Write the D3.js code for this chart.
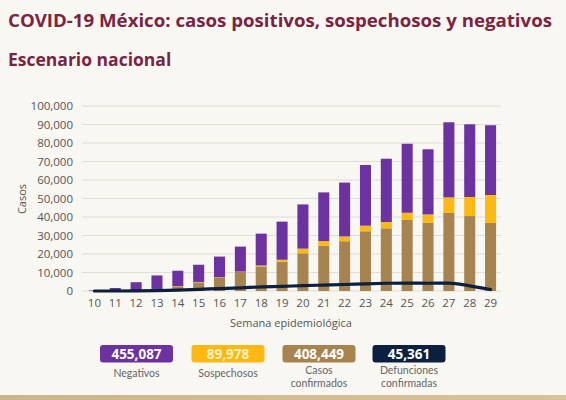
<!DOCTYPE html>
<html><head><meta charset="utf-8">
<script src="https://cdn.jsdelivr.net/npm/d3@7"></script>
<style>
html,body{margin:0;padding:0;background:#f9f7f2;}
svg{display:block;}
</style></head>
<body>
<svg id="chart" width="566" height="400"></svg>
<script>
const weeks = [10,11,12,13,14,15,16,17,18,19,20,21,22,23,24,25,26,27,28,29];
const confirmados = [30,100,400,1000,2500,4700,7200,10300,13300,15800,20400,24500,26900,32300,33900,38400,36900,42200,40500,36800];
const sospechosos = [0,20,50,100,150,200,200,200,500,1100,2500,2500,2600,3000,3400,3900,4500,8400,10300,15100];
const negativos = [300,1500,4300,7300,8300,9300,11200,13500,17200,20600,23900,26300,29100,32800,34200,37300,35200,40600,39300,37700];
const defunciones = [0,10,50,200,500,900,1300,1700,2200,2500,2900,3200,3500,3900,4200,4300,4200,4300,2800,800];
const yTicks = [0,10000,20000,30000,40000,50000,60000,70000,80000,90000,100000];
const seriesKeys = ["confirmados","sospechosos","negativos"];
const seriesColors = {confirmados:"#a7834f", sospechosos:"#fdb813", negativos:"#6b32a0"};
const totals = [
  {value:"455,087", label:["Negativos"], color:"#6b32a0", text:"#ffffff"},
  {value:"89,978", label:["Sospechosos"], color:"#fdb813", text:"#fff3c4"},
  {value:"408,449", label:["Casos","confirmados"], color:"#a7834f", text:"#ffffff"},
  {value:"45,361", label:["Defunciones","confirmadas"], color:"#0b1f3f", text:"#ffffff"}
];

const svg = d3.select("#chart");
const font = "'Open Sans', sans-serif";

// background
svg.append("rect").attr("width",566).attr("height",400).attr("fill","#f9f7f2");
const grad = svg.append("defs").append("linearGradient").attr("id","foot").attr("x1","0").attr("x2","1");
grad.append("stop").attr("offset","0").attr("stop-color","#cdb48a");
grad.append("stop").attr("offset","1").attr("stop-color","#d9c29a");
svg.append("rect").attr("x",0).attr("y",395).attr("width",566).attr("height",5).attr("fill","url(#foot)");

// titles
svg.append("text").attr("x",8).attr("y",27).attr("font-family",font).attr("font-weight",700)
  .attr("font-size",17.5).attr("fill","#7b2342")
  .attr("textLength",544).attr("lengthAdjust","spacingAndGlyphs")
  .text("COVID-19 México: casos positivos, sospechosos y negativos");
svg.append("text").attr("x",8).attr("y",66).attr("font-family",font).attr("font-weight",700)
  .attr("font-size",17.5).attr("fill","#7b2342").text("Escenario nacional");

// scales
const x = d3.scaleBand().domain(weeks).range([84,501]).paddingInner(0.47).paddingOuter(0.235);
const y = d3.scaleLinear().domain([0,100000]).range([291,106]);

// grid
svg.append("g").selectAll("line").data(yTicks).join("line")
  .attr("x1",82).attr("x2",501).attr("y1",d=>y(d)).attr("y2",d=>y(d))
  .attr("stroke","#e0ddd6").attr("stroke-width",1);

// y axis
const yAxis = d3.axisLeft(y).tickValues(yTicks).tickSize(0).tickPadding(0).tickFormat(d3.format(","));
const gy = svg.append("g").attr("transform","translate(73,0)").call(yAxis);
gy.select(".domain").remove();
gy.selectAll("text").attr("font-family",font).attr("font-size",11.5).attr("fill","#555");

// x axis
const xAxis = d3.axisBottom(x).tickSize(0).tickPadding(0);
const gx = svg.append("g").attr("transform","translate(0,299)").call(xAxis);
gx.select(".domain").remove();
gx.selectAll("text").attr("font-family",font).attr("font-size",11.5).attr("fill","#555").attr("dy","0.71em");

// axis titles
svg.append("text").attr("transform","translate(26,199) rotate(-90)").attr("text-anchor","middle")
  .attr("font-family",font).attr("font-size",11).attr("fill","#555").text("Casos");
svg.append("text").attr("x",291).attr("y",327).attr("text-anchor","middle")
  .attr("font-family",font).attr("font-size",11).attr("fill","#555").text("Semana epidemiológica");

// stacked bars
const rows = weeks.map((w,i)=>({week:w, confirmados:confirmados[i], sospechosos:sospechosos[i], negativos:negativos[i]}));
const stack = d3.stack().keys(seriesKeys)(rows);
svg.append("g").selectAll("g").data(stack).join("g").attr("fill",d=>seriesColors[d.key])
  .selectAll("rect").data(d=>d).join("rect")
  .attr("x",d=>x(d.data.week)).attr("width",x.bandwidth())
  .attr("y",d=>y(d[1])).attr("height",d=>Math.max(0,y(d[0])-y(d[1])));

// deaths line
const line = d3.line().x((d,i)=>x(weeks[i])+x.bandwidth()/2).y(d=>y(d)).curve(d3.curveMonotoneX);
svg.append("path").datum(defunciones).attr("d",line).attr("fill","none")
  .attr("stroke","#0b1f3f").attr("stroke-width",3.2).attr("stroke-linecap","round");

// totals legend
const lfont = "Lato, sans-serif";
const bx = [100,191.5,282.5,372.5];
const lg = svg.append("g").selectAll("g").data(totals).join("g")
  .attr("transform",(d,i)=>`translate(${bx[i]},345)`);
lg.append("rect").attr("width",73).attr("height",17.5).attr("rx",3).attr("fill",d=>d.color);
lg.append("text").attr("x",36.5).attr("y",13.5).attr("text-anchor","middle").attr("font-family",font)
  .attr("font-weight",700).attr("font-size",13.5).attr("fill",d=>d.text).text(d=>d.value);
lg.each(function(d){
  const g = d3.select(this);
  const n = d.label.length;
  d.label.forEach((t,j)=>{
    g.append("text").attr("x",36.5).attr("y",(n===1?31.5:29)+j*12.7).attr("text-anchor","middle")
      .attr("font-family",lfont).attr("font-size",10.5).attr("fill","#666").text(t);
  });
});
</script>
</body></html>
